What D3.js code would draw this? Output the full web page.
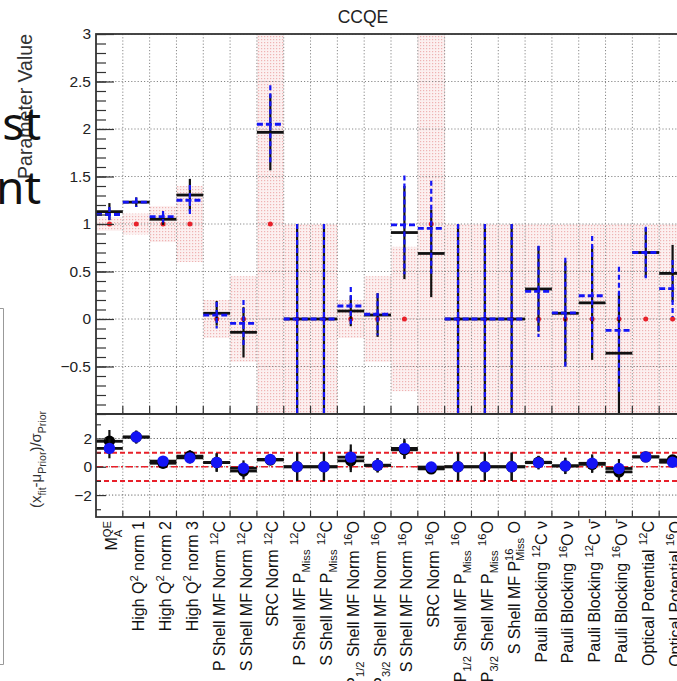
<!DOCTYPE html>
<html>
<head>
<meta charset="utf-8">
<script src="https://cdn.jsdelivr.net/npm/d3@7"></script>
<style>
  body { margin: 0; background: #fff; }
  svg { display: block; font-family: "Liberation Sans", Arial, sans-serif; }
  text { white-space: pre; }
</style>
</head>
<body>
<svg id="chart" width="677" height="681"></svg>
<script>
// parameter names, _{} = subscript, ^{} = superscript
const params = [
  "M_{A}^{QE}", "High Q^{2} norm 1", "High Q^{2} norm 2", "High Q^{2} norm 3",
  "P Shell MF Norm ^{12}C", "S Shell MF Norm ^{12}C", "SRC Norm ^{12}C",
  "P Shell MF P_{Miss} ^{12}C", "S Shell MF P_{Miss} ^{12}C",
  "P_{1/2} Shell MF Norm ^{16}O", "P_{3/2} Shell MF Norm ^{16}O", "S Shell MF Norm ^{16}O",
  "SRC Norm ^{16}O", "P_{1/2} Shell MF P_{Miss} ^{16}O", "P_{3/2} Shell MF P_{Miss} ^{16}O",
  "S Shell MF P_{Miss}^{16} O", "Pauli Blocking ^{12}C ν", "Pauli Blocking ^{16}O ν",
  "Pauli Blocking ^{12}C ν\u0304", "Pauli Blocking ^{16}O ν\u0304",
  "Optical Potential ^{12}C", "Optical Potential ^{16}O"
];

// prior (red band + red dot)
const priorMean = [1, 1, 1, 1, 0, 0, 1, 0, 0, 0, 0, 0, 1, 0, 0, 0, 0, 0, 0, 0, 0, 0];
const priorErr  = [0.072, 0.11, 0.19, 0.4, 0.2, 0.45, 2, 1, 1, 0.2, 0.45, 0.76, 2, 1, 1, 1, 1, 1, 1, 1, 1, 1];

// fit 1 (black) and fit 2 (blue dashed)
const fitBlack    = [1.13, 1.23, 1.05, 1.305, 0.06, -0.14, 1.965, 0, 0, 0.084, 0.042, 0.91, 0.69, 0, 0, 0, 0.316, 0.06, 0.17, -0.36, 0.70, 0.48];
const fitBlackErr = [0.09, 0.05, 0.06, 0.17, 0.13, 0.265, 0.4, 1, 1, 0.16, 0.23, 0.49, 0.46, 1, 1, 1, 0.45, 0.55, 0.6, 0.63, 0.26, 0.3];
const fitBlue     = [1.10, 1.23, 1.077, 1.25, 0.04, -0.045, 2.05, 0, 0, 0.137, 0.05, 0.99, 0.955, 0, 0, 0, 0.29, 0.065, 0.245, -0.12, 0.70, 0.32];
const fitBlueErr  = [0.08, 0.05, 0.06, 0.16, 0.14, 0.245, 0.41, 1, 1, 0.2, 0.22, 0.52, 0.5, 1, 1, 1, 0.48, 0.58, 0.63, 0.67, 0.27, 0.3];

// pulls in lower pad
const pullBlack    = [1.8, 2.1, 0.25, 0.75, 0.3, -0.3, 0.48, 0, 0, 0.42, 0.1, 1.2, -0.15, 0, 0, 0, 0.32, 0.06, 0.17, -0.36, 0.7, 0.48];
const pullBlackErr = [0.8, 0.45, 0.3, 0.42, 0.65, 0.6, 0.2, 1, 1, 0.8, 0.5, 0.65, 0.23, 1, 1, 1, 0.45, 0.55, 0.6, 0.63, 0.26, 0.3];
const pullBlue     = [1.3, 2.1, 0.4, 0.63, 0.3, -0.1, 0.52, 0, 0, 0.68, 0.11, 1.3, -0.02, 0, 0, 0, 0.29, 0.065, 0.245, -0.12, 0.7, 0.32];
const pullBlueErr  = [0.7, 0.45, 0.3, 0.4, 0.65, 0.55, 0.2, 1, 1, 0.9, 0.5, 0.68, 0.25, 1, 1, 1, 0.48, 0.58, 0.63, 0.67, 0.27, 0.3];

const yTicks = [-0.5, 0, 0.5, 1, 1.5, 2, 2.5, 3];
const pullTicks = [-2, 0, 2];
const pullRefs = [-1, 1];

const svg = d3.select("#chart");
const BLUE = "#1414f5", RED = "#e8202a", AX = "#333";

const x = d3.scaleBand().domain(d3.range(params.length)).range([96, 686]).padding(0);
const bw = x.bandwidth();
const yTop = d3.scaleLinear().domain([-1, 3]).range([414, 34]);
const yBot = d3.scaleLinear().domain([-3.55, 3.73]).range([517, 414]);

// pink dotted fill like ROOT fill style
const defs = svg.append("defs");
const pat = defs.append("pattern").attr("id", "pinkdots")
  .attr("patternUnits", "userSpaceOnUse").attr("width", 3).attr("height", 3);
pat.append("rect").attr("width", 3).attr("height", 3).attr("fill", "#fcf0f0");
pat.append("rect").attr("width", 1.2).attr("height", 1.2).attr("fill", "#efb3b3");
defs.append("clipPath").attr("id", "clipTop").append("rect")
  .attr("x", 96).attr("y", 34).attr("width", 590).attr("height", 380);

// title
svg.append("text").attr("x", 363).attr("y", 23).attr("text-anchor", "middle")
  .attr("font-size", 17.5).attr("fill", "#222").text("CCQE");

// ---- top pad ----
const topPad = svg.append("g").attr("clip-path", "url(#clipTop)");

topPad.selectAll("rect.band").data(params).enter().append("rect")
  .attr("class", "band")
  .attr("x", (d, i) => x(i)).attr("width", bw)
  .attr("y", (d, i) => yTop(priorMean[i] + priorErr[i]))
  .attr("height", (d, i) => yTop(priorMean[i] - priorErr[i]) - yTop(priorMean[i] + priorErr[i]))
  .attr("fill", "url(#pinkdots)");

// grid
const bounds = d3.range(1, params.length).map(k => x(k));
topPad.selectAll("line.vg").data(bounds).enter().append("line")
  .attr("x1", d => d).attr("x2", d => d).attr("y1", 34).attr("y2", 414)
  .attr("stroke", "#888").attr("stroke-width", 1).attr("stroke-dasharray", "1.2,2");
topPad.selectAll("line.hg").data(yTicks).enter().append("line")
  .attr("x1", 96).attr("x2", 686).attr("y1", d => yTop(d)).attr("y2", d => yTop(d))
  .attr("stroke", "#888").attr("stroke-width", 1).attr("stroke-dasharray", "1.2,2");

// prior central values
topPad.selectAll("circle.prior").data(params).enter().append("circle")
  .attr("cx", (d, i) => x(i) + bw / 2).attr("cy", (d, i) => yTop(priorMean[i]))
  .attr("r", 2.5).attr("fill", RED);

const drawFit = (vals, errs, color, hDash, vDash) => {
  const g = topPad.append("g");
  g.selectAll("line.h").data(vals).enter().append("line")
    .attr("x1", (d, i) => x(i)).attr("x2", (d, i) => x(i) + bw)
    .attr("y1", d => yTop(d)).attr("y2", d => yTop(d))
    .attr("stroke", color).attr("stroke-width", 2.8).attr("stroke-dasharray", hDash);
  g.selectAll("line.v").data(vals).enter().append("line")
    .attr("x1", (d, i) => x(i) + bw / 2).attr("x2", (d, i) => x(i) + bw / 2)
    .attr("y1", (d, i) => yTop(d + errs[i])).attr("y2", (d, i) => yTop(d - errs[i]))
    .attr("stroke", color).attr("stroke-width", 2.2).attr("stroke-dasharray", vDash);
};
drawFit(fitBlack, fitBlackErr, "#111", null, null);
drawFit(fitBlue, fitBlueErr, BLUE, "6,3", "5,3");

// axes top pad
const styleAxis = g => {
  g.select(".domain").remove();
  g.selectAll("line").attr("stroke", AX).attr("stroke-width", 1.2);
  g.selectAll("text").attr("font-size", 15.5).attr("fill", "#222")
    .attr("font-family", "'Liberation Sans', Arial, sans-serif");
};
svg.append("g").attr("transform", "translate(96,0)")
  .call(d3.axisLeft(yTop).tickValues(d3.range(-10, 31).map(v => v / 10)).tickSize(-10).tickFormat(""))
  .call(styleAxis);
svg.append("g").attr("transform", "translate(96,0)")
  .call(d3.axisLeft(yTop).tickValues(yTicks).tickSize(-18).tickPadding(5).tickFormat(d3.format("")))
  .call(styleAxis);
svg.selectAll("line.xt").data(bounds).enter().append("line")
  .attr("x1", d => d).attr("x2", d => d).attr("y1", 414).attr("y2", 406)
  .attr("stroke", AX).attr("stroke-width", 1.2);

// frame top pad
svg.append("rect").attr("x", 96).attr("y", 34).attr("width", 590).attr("height", 380)
  .attr("fill", "none").attr("stroke", AX).attr("stroke-width", 1.8);

// ---- bottom pad ----
const botPad = svg.append("g");
botPad.selectAll("line.vg").data(bounds).enter().append("line")
  .attr("x1", d => d).attr("x2", d => d).attr("y1", 414).attr("y2", 517)
  .attr("stroke", "#888").attr("stroke-width", 1).attr("stroke-dasharray", "1.2,2");
botPad.selectAll("line.hg").data(pullTicks).enter().append("line")
  .attr("x1", 96).attr("x2", 686).attr("y1", d => yBot(d)).attr("y2", d => yBot(d))
  .attr("stroke", "#666").attr("stroke-width", 1).attr("stroke-dasharray", "1.2,2");
botPad.selectAll("line.ref").data(pullRefs).enter().append("line")
  .attr("x1", 96).attr("x2", 686).attr("y1", d => yBot(d)).attr("y2", d => yBot(d))
  .attr("stroke", RED).attr("stroke-width", 2).attr("stroke-dasharray", "5,3");
botPad.append("line").attr("x1", 96).attr("x2", 686).attr("y1", yBot(0)).attr("y2", yBot(0))
  .attr("stroke", RED).attr("stroke-width", 1.6).attr("stroke-dasharray", "7,3,2,3");

const drawPull = (vals, errs, color) => {
  const g = botPad.append("g");
  g.selectAll("line.h").data(vals).enter().append("line")
    .attr("x1", (d, i) => x(i)).attr("x2", (d, i) => x(i) + bw)
    .attr("y1", d => yBot(d)).attr("y2", d => yBot(d))
    .attr("stroke", "#111").attr("stroke-width", 2.8);
  g.selectAll("line.v").data(vals).enter().append("line")
    .attr("x1", (d, i) => x(i) + bw / 2).attr("x2", (d, i) => x(i) + bw / 2)
    .attr("y1", (d, i) => yBot(d + errs[i])).attr("y2", (d, i) => yBot(d - errs[i]))
    .attr("stroke", "#111").attr("stroke-width", 2.2);
  g.selectAll("circle").data(vals).enter().append("circle")
    .attr("cx", (d, i) => x(i) + bw / 2).attr("cy", d => yBot(d))
    .attr("r", 5.7).attr("fill", color);
};
drawPull(pullBlack, pullBlackErr, "#000");
drawPull(pullBlue, pullBlueErr, BLUE);

svg.append("g").attr("transform", "translate(96,0)")
  .call(d3.axisLeft(yBot).tickValues([-3, -1, 1, 3]).tickSize(-5).tickFormat(""))
  .call(styleAxis);
svg.append("g").attr("transform", "translate(96,0)")
  .call(d3.axisLeft(yBot).tickValues(pullTicks).tickSize(-10).tickPadding(4).tickFormat(d3.format("")))
  .call(styleAxis);
svg.selectAll("line.bt").data(bounds).enter().append("line")
  .attr("x1", d => d).attr("x2", d => d).attr("y1", 517).attr("y2", 511)
  .attr("stroke", AX).attr("stroke-width", 1.2);
svg.append("rect").attr("x", 96).attr("y", 414).attr("width", 590).attr("height", 103)
  .attr("fill", "none").attr("stroke", AX).attr("stroke-width", 1.8);

// tiny latex-ish text helper
function richText(text, str, fs) {
  const segs = [];
  const re = /([_^])\{([^}]*)\}/g;
  let last = 0, m;
  while ((m = re.exec(str)) !== null) {
    if (m.index > last) segs.push({ t: str.slice(last, m.index), k: "n" });
    segs.push({ t: m[2], k: m[1] === "_" ? "sub" : "sup" });
    last = re.lastIndex;
  }
  if (last < str.length) segs.push({ t: str.slice(last), k: "n" });

  let shift = 0, prevLen = 0, extra = 0;
  segs.forEach((s, i) => {
    const target = s.k === "sub" ? fs * 0.3 : s.k === "sup" ? -fs * 0.42 : 0;
    const ts = text.append("tspan")
      .attr("dy", target - shift)
      .attr("font-size", s.k === "n" ? fs : fs * 0.7)
      .text(s.t);
    shift = target;
    let dx = extra;
    extra = 0;
    const len = ts.node().getComputedTextLength();
    if (s.k === "sup" && i > 0 && segs[i - 1].k === "sub") {
      dx -= prevLen;
      if (prevLen > len) extra = prevLen - len;
    }
    if (dx) ts.attr("dx", dx);
    prevLen = len;
  });
}

// x labels
params.forEach((p, i) => {
  const t = svg.append("text")
    .attr("transform", `translate(${x(i) + bw / 2 + 8},521) rotate(-90)`)
    .attr("text-anchor", "end").attr("fill", "#111");
  richText(t, p, 16);
});

// axis titles
svg.append("text").attr("transform", "translate(32,34) rotate(-90)")
  .attr("text-anchor", "end").attr("font-size", 19.5).attr("fill", "#333")
  .text("Parameter Value");
const pt = svg.append("text").attr("transform", "translate(41,411) rotate(-90)")
  .attr("text-anchor", "end").attr("fill", "#333");
richText(pt, "(x_{fit}-μ_{Prior})/σ_{Prior}", 15);

// bits of the slide behind the plot
svg.append("path").attr("d", "M0,308.5H3.5V664.5H0")
  .attr("fill", "none").attr("stroke", "#999").attr("stroke-width", 1);
svg.append("text").attr("x", 41).attr("y", 140).attr("text-anchor", "end")
  .attr("font-family", "'Noto Sans', sans-serif").attr("font-size", 46).attr("fill", "#111").text("st");
svg.append("text").attr("x", 41).attr("y", 204).attr("text-anchor", "end")
  .attr("font-family", "'Noto Sans', sans-serif").attr("font-size", 46).attr("fill", "#111").text("nt");
</script>
</body>
</html>
